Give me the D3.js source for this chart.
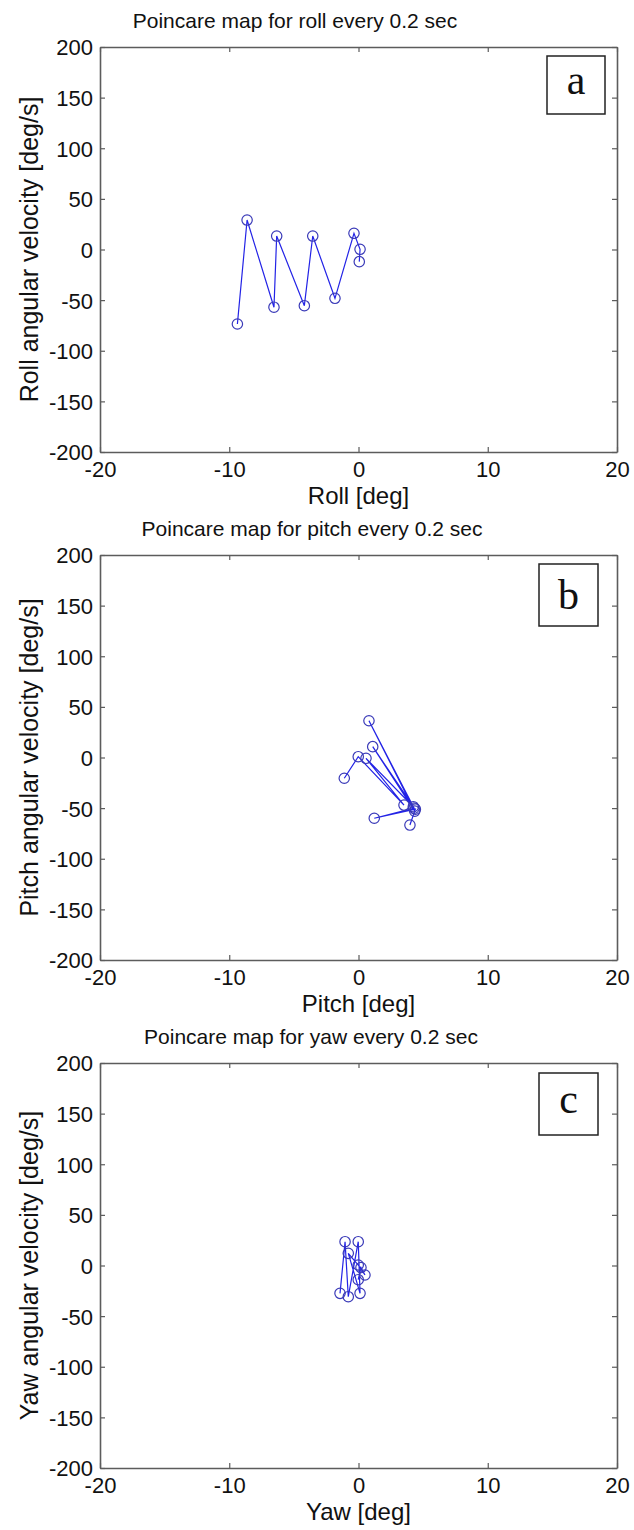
<!DOCTYPE html>
<html>
<head>
<meta charset="utf-8">
<script src="https://cdn.jsdelivr.net/npm/d3@7"></script>
<style>
  html, body { margin: 0; padding: 0; background: #fff; }
  svg { display: block; }
  text { font-family: "Liberation Sans", Arial, Helvetica, sans-serif; fill: #111; }
</style>
</head>
<body>
<svg id="fig" width="634" height="1530"></svg>
<script>
// Axis ticks shared by the three panels
const xTicks = [-20, -10, 0, 10, 20];
const yTicks = [-200, -150, -100, -50, 0, 50, 100, 150, 200];

// Roll section points (angle in deg, rate in deg/s), in sampling order
const rollAngle = [-9.37, -8.62, -6.54, -6.33, -4.19, -3.54, -1.82, -0.35, 0.12, 0.06];
const rollRate  = [-73.6, 29.1, -57.0, 13.3, -55.5, 13.3, -48.2, 16.0, 0.2, -12.0];

// Pitch section points
const pitchAngle = [-1.10, -0.02, 3.52, 0.58, 4.24, 1.10, 4.35, 0.81, 4.30, 1.22, 4.40, 3.98];
const pitchRate  = [-20.5, 0.8, -47.0, -0.8, -48.6, 10.7, -53.0, 36.3, -50.0, -60.0, -51.0, -66.7];

// Yaw section points
const yawAngle = [-1.43, -1.04, -0.79, -0.02, 0.12, -0.79, -0.02, 0.50, 0.19, -0.02];
const yawRate  = [-27.5, 23.5, -30.8, 23.5, -27.5, 12.0, 0.5, -9.4, -2.0, -14.0];

const titles  = ["Poincare map for roll every 0.2 sec",
                 "Poincare map for pitch every 0.2 sec",
                 "Poincare map for yaw every 0.2 sec"];
const xLabels = ["Roll [deg]", "Pitch [deg]", "Yaw [deg]"];
const yLabels = ["Roll angular velocity [deg/s]",
                 "Pitch angular velocity [deg/s]",
                 "Yaw angular velocity [deg/s]"];
const letters = ["a", "b", "c"];

const panels = [
  { xv: rollAngle,  yv: rollRate },
  { xv: pitchAngle, yv: pitchRate },
  { xv: yawAngle,   yv: yawRate }
];

// Layout of the stacked axes
const plotLeft = 100, plotRight = 617, plotH = 405;
const panelTops = [47, 555, 1063];
const titleX = [295, 312, 311];
const letterBoxes = [
  { x: 547, y: 56, w: 58, h: 58 },
  { x: 539, y: 564, w: 59, h: 62 },
  { x: 539, y: 1073, w: 59, h: 62 }
];

const axisColor = "#5c5c5c";
const lineColor = "#2323e6";
const markColor = "#3a3ab8";
const plainNum = d => String(d);   // hyphen-minus, as in the printed figure

const svg = d3.select("#fig");

panels.forEach((p, i) => {
  const top = panelTops[i];
  const x = d3.scaleLinear().domain([-20, 20]).range([plotLeft, plotRight]);
  const y = d3.scaleLinear().domain([-200, 200]).range([top + plotH, top]);
  const g = svg.append("g");

  // frame ticks point inward on all four sides
  const bottom = g.append("g")
    .attr("transform", `translate(0,${top + plotH})`)
    .call(d3.axisBottom(x).tickValues(xTicks).tickFormat(plainNum)
      .tickSizeInner(-5).tickSizeOuter(0).tickPadding(9));
  const topAx = g.append("g")
    .attr("transform", `translate(0,${top})`)
    .call(d3.axisTop(x).tickValues(xTicks).tickSizeInner(-5).tickSizeOuter(0).tickFormat(""));
  const left = g.append("g")
    .attr("transform", `translate(${plotLeft},0)`)
    .call(d3.axisLeft(y).tickValues(yTicks).tickFormat(plainNum)
      .tickSizeInner(-5).tickSizeOuter(0).tickPadding(7));
  const right = g.append("g")
    .attr("transform", `translate(${plotRight},0)`)
    .call(d3.axisRight(y).tickValues(yTicks).tickSizeInner(-5).tickSizeOuter(0).tickFormat(""));

  [bottom, topAx, left, right].forEach(a => {
    a.select(".domain").attr("stroke", axisColor).attr("stroke-width", 1.6);
    a.selectAll(".tick line").attr("stroke", axisColor).attr("stroke-width", 1.2);
    a.selectAll(".tick text").attr("fill", "#111").style("font-size", "22px")
      .style("font-family", '"Liberation Sans", Arial, sans-serif');
  });
  left.selectAll(".tick text").attr("dy", "0.36em");

  // title
  g.append("text")
    .attr("x", titleX[i]).attr("y", top - 19)
    .attr("text-anchor", "middle")
    .style("font-size", "21px")
    .text(titles[i]);

  // x label
  g.append("text")
    .attr("x", x(0)).attr("y", top + plotH + 52)
    .attr("text-anchor", "middle")
    .style("font-size", "24px")
    .text(xLabels[i]);

  // y label
  g.append("text")
    .attr("transform", `translate(29,${top + plotH / 2}) rotate(-90)`)
    .attr("text-anchor", "middle")
    .attr("dominant-baseline", "central")
    .style("font-size", "25px")
    .text(yLabels[i]);

  // trajectory through the section points
  const pts = p.xv.map((v, k) => [v, p.yv[k]]);
  g.append("path")
    .datum(pts)
    .attr("fill", "none")
    .attr("stroke", lineColor)
    .attr("stroke-width", 1.2)
    .attr("d", d3.line().x(d => x(d[0])).y(d => y(d[1])));

  g.selectAll("circle.pt")
    .data(pts)
    .join("circle")
    .attr("class", "pt")
    .attr("cx", d => x(d[0]))
    .attr("cy", d => y(d[1]))
    .attr("r", 5.2)
    .attr("fill", "none")
    .attr("stroke", markColor)
    .attr("stroke-width", 1.2);

  // panel letter in a box
  const b = letterBoxes[i];
  g.append("rect")
    .attr("x", b.x).attr("y", b.y).attr("width", b.w).attr("height", b.h)
    .attr("fill", "#fff").attr("stroke", "#222").attr("stroke-width", 1.5);
  g.append("text")
    .attr("x", b.x + b.w / 2).attr("y", b.y + b.h / 2 + (letters[i] === "b" ? 14 : 9))
    .attr("text-anchor", "middle")
    .style("font-family", '"Liberation Serif", "Times New Roman", serif')
    .style("font-size", "42px")
    .text(letters[i]);
});
</script>
</body>
</html>
